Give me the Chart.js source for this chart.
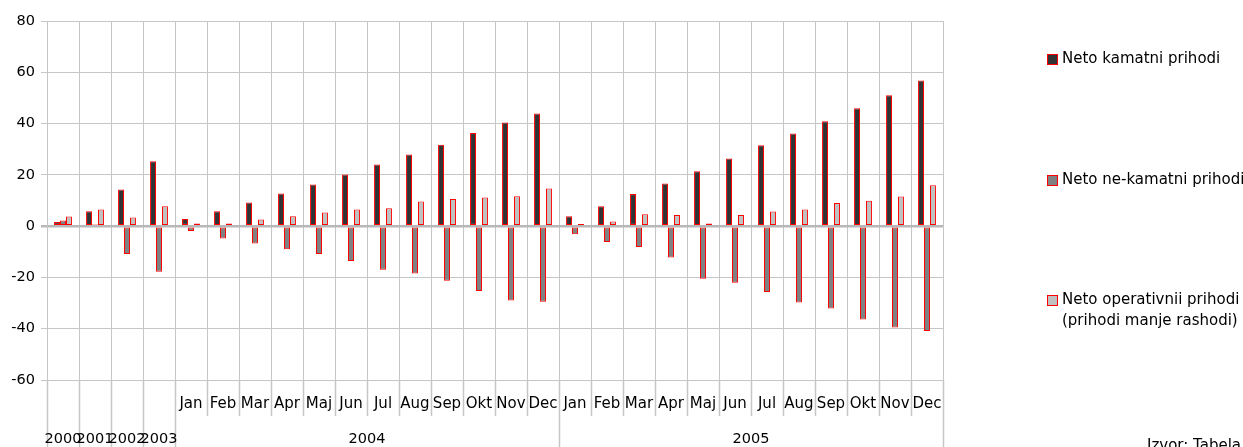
<!DOCTYPE html>
<html>
<head>
<meta charset="utf-8">
<script src="https://cdn.jsdelivr.net/npm/chart.js@4.4.0/dist/chart.umd.min.js"></script>
<style>
  html, body { margin: 0; padding: 0; background: #fff; overflow: hidden; }
  #wrap { position: relative; width: 1243px; height: 447px; }
</style>
</head>
<body>
<div id="wrap"><canvas id="chart" width="1243" height="447"></canvas></div>
<script>
// Kategorije: godisnji podaci 2000-2003, pa mjesecni za 2004 i 2005
const monthLabels = ["", "", "", "",
  "Jan", "Feb", "Mar", "Apr", "Maj", "Jun", "Jul", "Aug", "Sep", "Okt", "Nov", "Dec",
  "Jan", "Feb", "Mar", "Apr", "Maj", "Jun", "Jul", "Aug", "Sep", "Okt", "Nov", "Dec"];
const yearLabels = ["2000", "2001", "2002", "2003",
  "2004", "2004", "2004", "2004", "2004", "2004", "2004", "2004", "2004", "2004", "2004", "2004",
  "2005", "2005", "2005", "2005", "2005", "2005", "2005", "2005", "2005", "2005", "2005", "2005"];

const netoKamatni = [1.6, 5.8, 14.3, 25.3,
  2.8, 5.8, 9.2, 12.7, 16.2, 20.1, 24.0, 27.9, 31.7, 36.3, 40.4, 43.9,
  3.9, 7.8, 12.5, 16.6, 21.4, 26.4, 31.5, 36.1, 40.9, 46.0, 51.0, 56.8];
const netoNeKamatni = [2.2, 0.6, -10.9, -17.8,
  -1.9, -4.8, -6.8, -9.0, -10.9, -13.6, -17.0, -18.5, -21.3, -25.3, -29.0, -29.5,
  -3.2, -6.2, -8.1, -12.2, -20.5, -22.1, -25.7, -29.8, -32.1, -36.4, -39.5, -40.9];
const netoOperativni = [3.8, 6.5, 3.4, 7.8,
  1.0, 1.0, 2.6, 3.9, 5.3, 6.5, 7.0, 9.6, 10.6, 11.2, 11.7, 14.7,
  0.8, 1.8, 4.6, 4.3, 1.0, 4.3, 5.7, 6.5, 9.0, 9.9, 11.6, 15.9];

const yTicks = [-60, -40, -20, 0, 20, 40, 60, 80];

const seriesNames = ["Neto kamatni prihodi", "Neto ne-kamatni prihodi",
  ["Neto operativnii prihodi", "(prihodi manje rashodi)"]];
const seriesColors = ["#333333", "#808080", "#c0c0c0"];

const FONT = "DejaVu Sans";
const GRID = "#c6c6c6";

const categories = monthLabels.map((m, i) => m ? m + " " + yearLabels[i] : yearLabels[i]);

// hijerarhijske oznake ispod grafa, legenda i izvor
const extras = {
  id: "extras",
  afterDraw(chart) {
    const ctx = chart.ctx;
    const x = chart.scales.x;
    const area = chart.chartArea;
    const n = categories.length;
    const w = (area.right - area.left) / n;
    const bottom = chart.height;
    const monthRowEnd = area.bottom + 36;

    ctx.save();
    ctx.strokeStyle = GRID;
    ctx.lineWidth = 1.5;
    for (let i = 0; i <= n; i++) {
      const bx = Math.round(area.left + i * w) + 0.5;
      const yearBreak = i === 0 || i === n || yearLabels[i] !== yearLabels[i - 1] || !monthLabels[i] || !monthLabels[i - 1];
      ctx.beginPath();
      ctx.moveTo(bx, area.bottom);
      ctx.lineTo(bx, yearBreak ? bottom : monthRowEnd);
      ctx.stroke();
    }

    ctx.fillStyle = "#000";
    ctx.font = "15px '" + FONT + "'";
    ctx.textAlign = "center";
    ctx.textBaseline = "middle";
    monthLabels.forEach((m, i) => {
      if (m) ctx.fillText(m, x.getPixelForValue(i), area.bottom + 24);
    });
    // grupisanje godina
    ctx.font = "14.5px '" + FONT + "'";
    let start = 0;
    for (let i = 1; i <= n; i++) {
      if (i === n || yearLabels[i] !== yearLabels[start]) {
        const cx = (x.getPixelForValue(start) + x.getPixelForValue(i - 1)) / 2;
        ctx.fillText(yearLabels[start], cx, area.bottom + 59);
        start = i;
      }
    }

    // legenda
    ctx.font = "15px '" + FONT + "'";
    ctx.textAlign = "left";
    const legendY = [59, 180, 300];
    seriesNames.forEach((name, k) => {
      const ly = legendY[k];
      ctx.fillStyle = seriesColors[k];
      ctx.fillRect(1047, ly - 5, 10, 10);
      ctx.strokeStyle = "#ff0000";
      ctx.lineWidth = 1;
      ctx.strokeRect(1047.5, ly - 4.5, 10, 10);
      ctx.fillStyle = "#000";
      const lines = Array.isArray(name) ? name : [name];
      lines.forEach((t, j) => ctx.fillText(t, 1062, ly + j * 21));
    });

    ctx.fillText("Izvor: Tabela", 1147, 446);
    ctx.restore();
  }
};

const ctx = document.getElementById("chart").getContext("2d");
new Chart(ctx, {
  type: "bar",
  data: {
    labels: categories,
    datasets: [netoKamatni, netoNeKamatni, netoOperativni].map((d, k) => ({
      label: Array.isArray(seriesNames[k]) ? seriesNames[k].join(" ") : seriesNames[k],
      data: d,
      backgroundColor: seriesColors[k],
      borderColor: "#ff0000",
      borderWidth: 1,
      borderSkipped: false,
      categoryPercentage: 0.56,
      barPercentage: 1.0
    }))
  },
  options: {
    responsive: false,
    animation: false,
    devicePixelRatio: 1,
    layout: { padding: { top: 21, right: 300, bottom: 0, left: 0 } },
    plugins: { legend: { display: false }, tooltip: { enabled: false } },
    scales: {
      x: {
        grid: { color: GRID, drawTicks: false, offset: true },
        border: { display: false },
        ticks: { display: false },
        afterFit(scale) { scale.height = 67; }
      },
      y: {
        min: yTicks[0],
        max: yTicks[yTicks.length - 1],
        afterBuildTicks(scale) { scale.ticks = yTicks.map(v => ({ value: v })); },
        grid: {
          color: c => c.tick && c.tick.value === 0 ? "#b8b8b8" : GRID,
          lineWidth: c => c.tick && c.tick.value === 0 ? 2.5 : 1,
          tickLength: 6
        },
        border: { color: GRID },
        ticks: { color: "#000", font: { family: FONT, size: 14.5 }, padding: 6 },
        afterFit(scale) { scale.width = 47; }
      }
    }
  },
  plugins: [extras]
});
</script>
</body>
</html>
